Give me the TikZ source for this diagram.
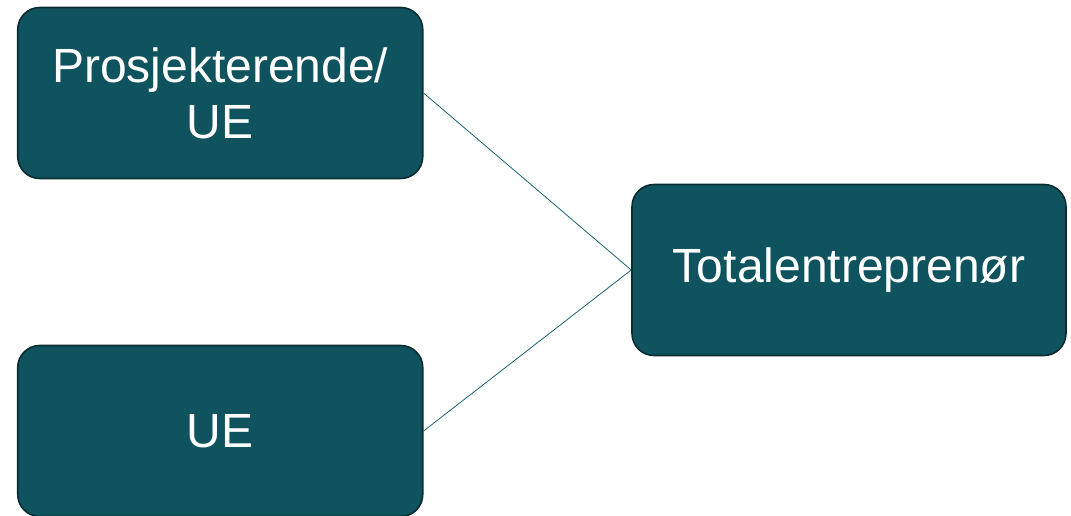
\documentclass[tikz,border=0pt]{standalone}
\usepackage{fontspec}
\setmainfont{Liberation Sans}
\definecolor{boxfill}{HTML}{0F535E}
\definecolor{boxline}{HTML}{0A2C31}
\definecolor{conn}{HTML}{1A6470}
\begin{document}
\begin{tikzpicture}[x=1pt,y=-1pt,
  pbox/.style={draw=boxline,line width=1.6pt,fill=boxfill,rounded corners=22pt,
    text=white,font=\fontsize{48}{56}\selectfont,align=center,inner sep=0pt},
  conline/.style={draw=conn,line width=0.8pt}]
\useasboundingbox (0,0) rectangle (1071,515);
\begin{scope}
\clip (0,0) rectangle (1071,515);
\node[pbox,minimum width=405pt,minimum height=171pt] (pro) at (220.25,93) {Prosjekterende/\\UE};
\node[pbox,minimum width=405pt,minimum height=171pt] (ue) at (220.25,431) {UE};
\node[pbox,minimum width=434pt,minimum height=171pt] (te) at (849,270) {Totalentreprenør};
\end{scope}
\draw[conline] (pro.east) -- (te.west);
\draw[conline] (ue.east) -- (te.west);
\end{tikzpicture}
\end{document}
